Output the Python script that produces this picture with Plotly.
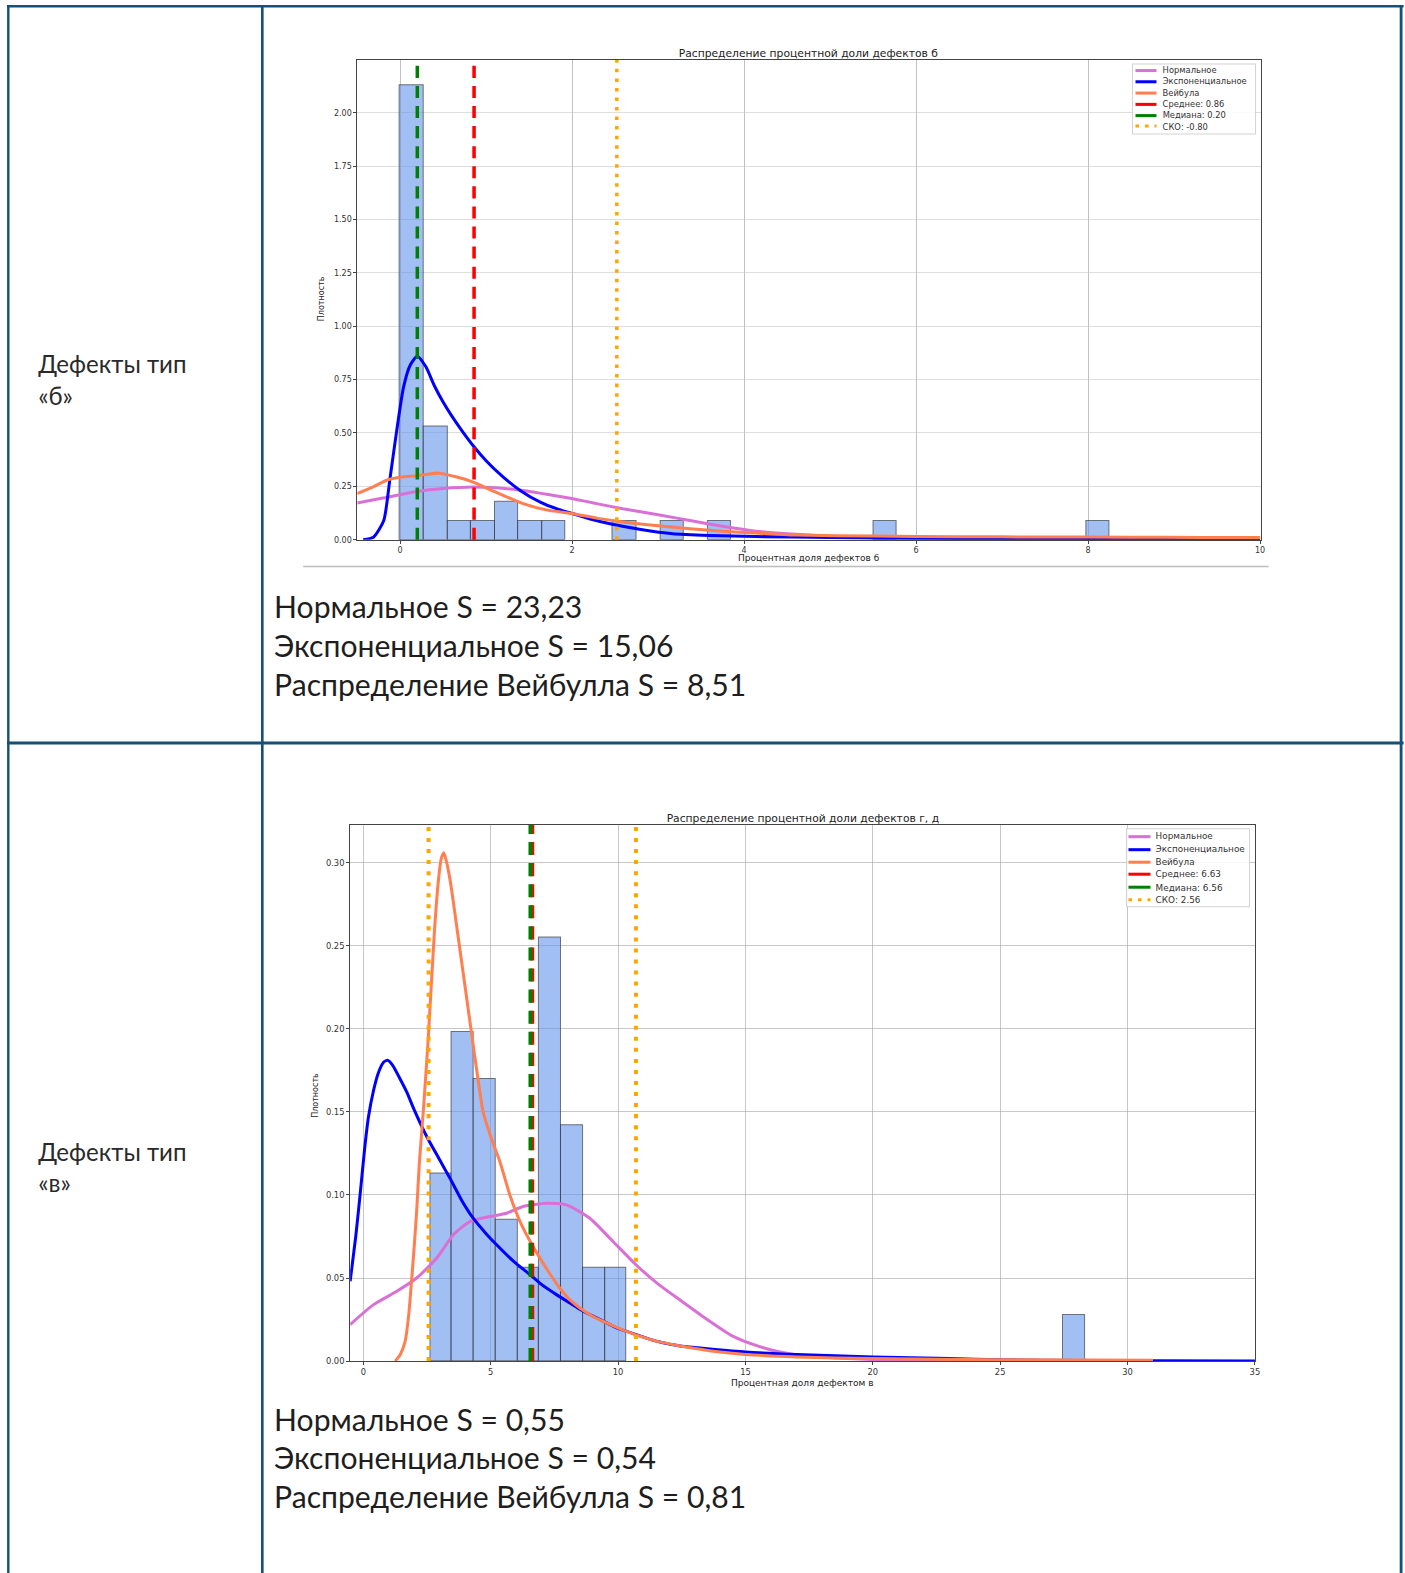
import plotly.graph_objects as go

W, H = 1405, 1573

# ---------------- data: defects type "б" ----------------
b_bin_left = [0.0, 0.275, 0.55, 0.825, 1.1, 1.375, 1.65, 2.475, 3.025, 3.575, 5.5, 7.975]
b_density = [2.13, 0.53, 0.089, 0.089, 0.178, 0.089, 0.089, 0.089, 0.089, 0.089, 0.089, 0.089]
b_bin_width = 0.275

b_norm_x = [-0.5, -0.2, 0.19, 0.5, 0.85, 1.15, 1.43, 1.7, 2.01, 2.3, 2.59, 3.0, 3.37, 3.75, 4.14, 4.5, 5.0, 5.5, 6.0, 7.0, 8.0, 10.0]
b_norm_y = [0.172, 0.195, 0.226, 0.24, 0.247, 0.242, 0.231, 0.213, 0.192, 0.168, 0.145, 0.117, 0.09, 0.063, 0.04, 0.028, 0.016, 0.009, 0.005, 0.002, 0.001, 0.0]

b_exp_x = [-0.43, -0.31, -0.19, -0.12, -0.04, 0.04, 0.12, 0.2, 0.3, 0.4, 0.5, 0.6, 0.72, 0.85, 1.0, 1.2, 1.4, 1.63, 1.82, 2.01, 2.2, 2.44, 2.8, 3.17, 3.6, 4.14, 5.0, 6.0, 7.0, 8.0, 9.0, 10.0]
b_exp_y = [0.0, 0.012, 0.09, 0.28, 0.51, 0.715, 0.82, 0.86, 0.81, 0.72, 0.645, 0.58, 0.51, 0.44, 0.37, 0.293, 0.23, 0.176, 0.145, 0.122, 0.098, 0.075, 0.048, 0.028, 0.02, 0.015, 0.01, 0.007, 0.005, 0.004, 0.002, 0.0]

b_weib_x = [-0.5, -0.3, -0.15, 0.0, 0.2, 0.445, 0.65, 0.85, 1.1, 1.43, 1.7, 2.01, 2.3, 2.59, 3.0, 3.37, 3.75, 4.14, 4.6, 5.5, 6.5, 7.5, 8.5, 9.3, 10.0]
b_weib_y = [0.216, 0.25, 0.28, 0.293, 0.30, 0.312, 0.295, 0.27, 0.225, 0.169, 0.14, 0.122, 0.1, 0.083, 0.065, 0.052, 0.04, 0.031, 0.022, 0.017, 0.014, 0.013, 0.012, 0.011, 0.011]

b_mean = 0.86
b_median = 0.20
b_std_lines = [-0.80, 2.52]
b_legend = ["Нормальное", "Экспоненциальное", "Вейбула", "Среднее: 0.86", "Медиана: 0.20", "СКО: -0.80"]
b_title = "Распределение процентной доли дефектов б"
b_xlabel = "Процентная доля дефектов б"
b_xticks = [0, 2, 4, 6, 8, 10]
b_yticks = [0.0, 0.25, 0.5, 0.75, 1.0, 1.25, 1.5, 1.75, 2.0]

# ---------------- data: defects type "в" ----------------
v_bin_left = [2.62, 3.48, 4.33, 5.19, 6.05, 6.90, 7.76, 8.62, 9.48, 27.47]
v_density = [0.113, 0.198, 0.170, 0.085, 0.056, 0.255, 0.142, 0.056, 0.056, 0.028]
v_bin_width = 0.857

v_norm_x = [-0.52, 0.4, 1.31, 2.09, 2.88, 3.53, 4.18, 4.97, 5.62, 6.27, 7.19, 7.97, 8.89, 9.8, 10.7, 11.6, 12.5, 13.5, 14.5, 15.5, 16.5, 17.5, 19.0, 21.0, 24.0, 28.0, 31.0]
v_norm_y = [0.022, 0.034, 0.042, 0.05, 0.062, 0.076, 0.084, 0.087, 0.089, 0.093, 0.095, 0.094, 0.086, 0.072, 0.058, 0.046, 0.036, 0.025, 0.015, 0.009, 0.005, 0.003, 0.0015, 0.0005, 0.0002, 0.0001, 0.0]

v_exp_x = [-0.52, -0.3, -0.13, 0.05, 0.2, 0.4, 0.6, 0.8, 0.96, 1.15, 1.4, 1.7, 2.0, 2.49, 3.0, 3.4, 3.85, 4.31, 4.8, 5.23, 5.9, 6.54, 7.0, 7.58, 8.1, 8.63, 9.3, 9.94, 10.7, 11.5, 12.5, 13.5, 15.0, 17.0, 20.0, 23.0, 25.0, 28.0, 31.0, 35.0]
v_exp_y = [0.048, 0.075, 0.10, 0.128, 0.147, 0.163, 0.174, 0.18, 0.181, 0.178, 0.171, 0.162, 0.151, 0.135, 0.121, 0.11, 0.097, 0.086, 0.077, 0.07, 0.06, 0.052, 0.046, 0.04, 0.035, 0.03, 0.025, 0.02, 0.016, 0.012, 0.009, 0.0075, 0.0055, 0.004, 0.0025, 0.0015, 0.0008, 0.0003, 0.0002, 0.0001]

v_weib_x = [1.25, 1.45, 1.64, 1.78, 1.9, 2.0, 2.09, 2.2, 2.35, 2.55, 2.79, 2.95, 3.05, 3.16, 3.3, 3.45, 3.66, 4.05, 4.45, 4.7, 5.0, 5.36, 5.75, 6.15, 6.55, 6.93, 7.3, 7.71, 8.1, 8.5, 9.0, 9.4, 10.3, 11.5, 12.5, 14.0, 15.0, 17.0, 20.0, 25.0, 31.0]
v_weib_y = [0.0, 0.004, 0.012, 0.028, 0.05, 0.07, 0.09, 0.12, 0.15, 0.195, 0.259, 0.29, 0.302, 0.306, 0.298, 0.285, 0.262, 0.219, 0.175, 0.15, 0.135, 0.12, 0.1, 0.084, 0.072, 0.062, 0.053, 0.044, 0.037, 0.032, 0.027, 0.024, 0.018, 0.012, 0.009, 0.0055, 0.004, 0.0025, 0.0015, 0.0008, 0.0005]

v_mean = 6.63
v_median = 6.56
v_std_lines = [2.56, 10.70]
v_legend = ["Нормальное", "Экспоненциальное", "Вейбула", "Среднее: 6.63", "Медиана: 6.56", "СКО: 2.56"]
v_title = "Распределение процентной доли дефектов г, д"
v_xlabel = "Процентная доля дефектом в"
v_xticks = [0, 5, 10, 15, 20, 25, 30, 35]
v_yticks = [0.0, 0.05, 0.10, 0.15, 0.20, 0.25, 0.30]

ylabel = "Плотность"
row_labels = ["Дефекты тип<br>«б»", "Дефекты тип<br>«в»"]
b_scores = ["Нормальное S = 23,23", "Экспоненциальное S = 15,06", "Распределение Вейбулла S = 8,51"]
v_scores = ["Нормальное S = 0,55", "Экспоненциальное S = 0,54", "Распределение Вейбулла S = 0,81"]

# ---------------- styles ----------------
C_NORM = "#da70d6"
C_EXP = "#0000ff"
C_WEIB = "#ff7f50"
C_MEAN = "#ff0000"
C_MED = "#008000"
C_STD = "#ffa500"
BAR_FILL = "rgba(100,149,237,0.6)"
BAR_EDGE = "rgba(50,50,60,0.65)"
BORDER = "#145079"
CHART_FONT = "DejaVu Sans"
TEXT_FONT = "Lato"


def X(px):
    return px / W


def Y(py):
    return 1 - py / H


fig = go.Figure()


def add_chart(xa, ya, bin_left, dens, bw, curves):
    fig.add_trace(go.Bar(
        x=[l + bw / 2 for l in bin_left], y=dens, width=[bw] * len(dens),
        marker=dict(color=BAR_FILL, line=dict(color=BAR_EDGE, width=1)),
        xaxis=xa, yaxis=ya, showlegend=False, hoverinfo="skip"))
    for cx, cy, col in curves:
        fig.add_trace(go.Scatter(
            x=cx, y=cy, mode="lines", line=dict(color=col, width=3, shape="spline", smoothing=0.6),
            xaxis=xa, yaxis=ya, showlegend=False, hoverinfo="skip"))


add_chart("x", "y", b_bin_left, b_density, b_bin_width,
          [(b_norm_x, b_norm_y, C_NORM), (b_exp_x, b_exp_y, C_EXP), (b_weib_x, b_weib_y, C_WEIB)])
add_chart("x2", "y2", v_bin_left, v_density, v_bin_width,
          [(v_norm_x, v_norm_y, C_NORM), (v_exp_x, v_exp_y, C_EXP), (v_weib_x, v_weib_y, C_WEIB)])

shapes = []


def vline(xref, yref, xv, color, dash, width):
    shapes.append(dict(type="line", xref=xref, yref=yref + " domain", x0=xv, x1=xv, y0=0, y1=1,
                       line=dict(color=color, width=width, dash=dash), layer="above"))


vline("x", "y", b_mean, C_MEAN, "12px,8px", 3.5)
vline("x", "y", b_median, C_MED, "12px,8px", 3.5)
for s in b_std_lines:
    vline("x", "y", s, C_STD, "3.5px,6px", 3.5)
vline("x2", "y2", v_mean, C_MEAN, "13px,8px", 4)
vline("x2", "y2", v_median, C_MED, "13px,8px", 4)
for s in v_std_lines:
    vline("x2", "y2", s, C_STD, "4px,7px", 4)

annotations = []


def legend(box, rows_y, x_line, x_text, labels, fsize):
    x0, y0, x1, y1 = box
    shapes.append(dict(type="rect", xref="paper", yref="paper", x0=X(x0), x1=X(x1), y0=Y(y1), y1=Y(y0),
                       line=dict(color="rgba(200,200,200,0.8)", width=1), fillcolor="rgba(255,255,255,0.85)",
                       layer="above"))
    styles = [(C_NORM, "solid"), (C_EXP, "solid"), (C_WEIB, "solid"),
              (C_MEAN, "solid"), (C_MED, "solid"), (C_STD, "3.5px,6px")]
    for ry, lab, (col, dash) in zip(rows_y, labels, styles):
        shapes.append(dict(type="line", xref="paper", yref="paper", x0=X(x_line[0]), x1=X(x_line[1]),
                           y0=Y(ry), y1=Y(ry), line=dict(color=col, width=3, dash=dash), layer="above"))
        annotations.append(dict(text=lab, xref="paper", yref="paper", x=X(x_text), y=Y(ry),
                                xanchor="left", yanchor="middle", showarrow=False,
                                font=dict(family=CHART_FONT, size=fsize, color="#333")))


legend((1132, 64, 1255, 134), [70.5, 81.7, 93.0, 104.3, 115.5, 126.0], (1135, 1156), 1160, b_legend, 8.3)
legend((1126, 828, 1249, 906), [836, 849, 861.5, 873.5, 886.5, 899], (1128, 1150), 1153, v_legend, 8.8)


def txt(text, px, py, size, family, color="#222", xanchor="center", angle=0):
    annotations.append(dict(text=text, xref="paper", yref="paper", x=X(px), y=Y(py), xanchor=xanchor,
                            yanchor="middle", showarrow=False, textangle=angle,
                            font=dict(family=family, size=size, color=color), align="left"))


# chart titles / axis labels
txt(b_title, 808, 53.5, 10.7, CHART_FONT)
txt(b_xlabel, 809, 557.5, 9, CHART_FONT)
txt(ylabel, 321, 298, 8, CHART_FONT, angle=-90)
txt(v_title, 802, 818, 10.7, CHART_FONT)
txt(v_xlabel, 802, 1381.5, 9, CHART_FONT)
txt(ylabel, 315, 1094, 8, CHART_FONT, angle=-90)

# table text
txt(row_labels[0], 36, 379, 24, TEXT_FONT, color="#2a2a2a", xanchor="left")
txt(row_labels[1], 36, 1166, 24, TEXT_FONT, color="#2a2a2a", xanchor="left")
for i, s in enumerate(b_scores):
    txt(s, 272, 606 + i * 38.5, 30, TEXT_FONT, color="#1e1e1e", xanchor="left")
for i, s in enumerate(v_scores):
    txt(s, 272, 1417.5 + i * 38.5, 30, TEXT_FONT, color="#1e1e1e", xanchor="left")


# table borders
def seg(x0, y0, x1, y1, w, color=BORDER):
    shapes.append(dict(type="line", xref="paper", yref="paper", x0=X(x0), x1=X(x1), y0=Y(y0), y1=Y(y1),
                       line=dict(color=color, width=w), layer="above"))


seg(7, 6.2, 1403, 6.2, 2.6)
seg(8.3, 5, 8.3, 1573, 2.4)
seg(262.2, 5, 262.2, 1573, 2.6)
seg(1400.5, 5, 1400.5, 1573, 2.8)
seg(7, 742.5, 1403, 742.5, 3)
seg(303, 566, 1268, 566, 1.5, "#bdbdbd")

axis_common = dict(showline=True, linecolor="#444", linewidth=1, mirror=True, ticks="outside",
                   ticklen=3, tickcolor="#444", zeroline=False, showgrid=True)

fig.update_layout(
    width=W, height=H, margin=dict(l=0, r=0, t=0, b=0),
    paper_bgcolor="white", plot_bgcolor="white", showlegend=False, bargap=0,
    xaxis=dict(domain=[X(357.3), X(1260)], range=[-0.496, 10.005], tickvals=b_xticks,
               gridcolor="rgba(160,160,160,0.65)", anchor="y",
               tickfont=dict(family=CHART_FONT, size=8, color="#333"), **axis_common),
    yaxis=dict(domain=[Y(539.3), Y(60)], range=[0, 2.247], tickvals=b_yticks, tickformat=".2f",
               gridcolor="rgba(200,200,200,0.6)", anchor="x",
               tickfont=dict(family=CHART_FONT, size=8, color="#333"), **axis_common),
    xaxis2=dict(domain=[X(350), X(1254.6)], range=[-0.52, 35.01], tickvals=v_xticks,
                gridcolor="rgba(170,170,170,0.65)", anchor="y2",
                tickfont=dict(family=CHART_FONT, size=8.3, color="#333"), **axis_common),
    yaxis2=dict(domain=[Y(1360), Y(824.4)], range=[0, 0.3226], tickvals=v_yticks, tickformat=".2f",
                gridcolor="rgba(170,170,170,0.65)", anchor="x2",
                tickfont=dict(family=CHART_FONT, size=8.3, color="#333"), **axis_common),
    shapes=shapes, annotations=annotations,
)

page_js = (
    "var h=document.documentElement,b=document.body;"
    "[h,b].forEach(function(e){e.style.margin='0';e.style.padding='0';e.style.overflow='hidden';});"
    "var g=document.getElementsByClassName('plotly-graph-div')[0];"
    "g.style.position='fixed';g.style.left='0px';g.style.top='0px';"
    "g.style.transformOrigin='0 0';g.style.transform='scale(1.004)';"
)

fig.write_html("out.html", include_plotlyjs=True,
               config={"displayModeBar": False, "responsive": False}, post_script=page_js)
